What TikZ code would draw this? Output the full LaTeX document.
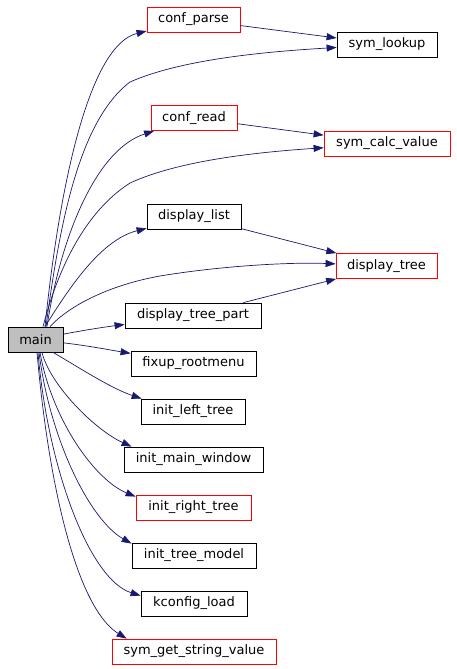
\documentclass[tikz,border=0pt]{standalone}
\usepackage{fontspec}
\setmainfont{DejaVu Sans}
\usetikzlibrary{arrows.meta}
\definecolor{edgec}{HTML}{191970}
\definecolor{redb}{HTML}{FF0000}
\definecolor{grayfill}{HTML}{BFBFBF}
\tikzset{
  fn/.style={draw=black, line width=0.8pt, inner sep=0pt, minimum height=25pt,
    font=\fontsize{13}{15}\selectfont},
  fnred/.style={fn, draw=redb},
  call/.style={draw=edgec, line width=0.7pt, -{Triangle[length=10pt,width=7pt]}}
}
\begin{document}
\begin{tikzpicture}[x=1pt,y=-1pt]
\useasboundingbox[fill=white] (0,0) rectangle (456,669);
% nodes
\node[fn, fill=grayfill, minimum width=55pt] (main) at (35.5,339.5) {main};
\node[fnred, minimum width=93pt] (confparse) at (193.5,19.5) {conf\_parse};
\node[fn, minimum width=100pt] (symlookup) at (387,44.5) {sym\_lookup};
\node[fnred, minimum width=86pt] (confread) at (194,118) {conf\_read};
\node[fnred, minimum width=126pt] (symcalc) at (387,143.5) {sym\_calc\_value};
\node[fn, minimum width=94pt] (displist) at (194,216.5) {display\_list};
\node[fnred, minimum width=101pt] (disptree) at (386.5,266) {display\_tree};
\node[fn, minimum width=136pt] (disppart) at (193,315.5) {display\_tree\_part};
\node[fn, minimum width=125pt] (fixup) at (193.5,363.5) {fixup\_rootmenu};
\node[fn, minimum width=104pt] (leftree) at (193,411.5) {init\_left\_tree};
\node[fn, minimum width=139pt] (mainwin) at (193.5,459.5) {init\_main\_window};
\node[fnred, minimum width=115pt] (rightree) at (193.5,507.5) {init\_right\_tree};
\node[fn, minimum width=124pt] (treemodel) at (194,555.5) {init\_tree\_model};
\node[fn, minimum width=106pt] (kload) at (194,603.5) {kconfig\_load};
\node[fnred, minimum width=164pt] (symget) at (194,651.5) {sym\_get\_string\_value};
% edges upward from main
\draw[call] ([xshift=9.5pt]main.north) .. controls (60,180) and (90,45) .. (confparse);
\draw[call] ([xshift=10.5pt]main.north) .. controls (60,220) and (80,120) .. (130,82)
  .. controls (180,60) and (260,52) .. (symlookup);
\draw[call] ([xshift=11.5pt]main.north) .. controls (60,240) and (95,150) .. (confread);
\draw[call] ([xshift=7.5pt]main.north) .. controls (55,280) and (80,215) .. (130,183)
  .. controls (180,160) and (260,152) .. (symcalc);
\draw[call] ([xshift=9.5pt]main.north) .. controls (68,290) and (100,240) .. (displist);
\draw[call] ([xshift=14.5pt]main.north) .. controls (70,305) and (110,285) .. (160,276)
  .. controls (220,266) and (290,262) .. (disptree);
\draw[call] (main) .. controls (85,330) and (105,327) .. (disppart);
\draw[call] (main) .. controls (90,346) and (110,350) .. (fixup);
% edges downward from main
\draw[call] ([xshift=17.5pt]main.south) .. controls (75,365) and (110,388) .. ([xshift=1pt]leftree.north west);
\draw[call] ([xshift=6.5pt]main.south) .. controls (50,385) and (95,430) .. ([xshift=8pt]mainwin.north west);
\draw[call] ([xshift=4.5pt]main.south) .. controls (52,420) and (95,480) .. ([yshift=-2pt]rightree.north west);
\draw[call] ([xshift=3.5pt]main.south) .. controls (50,440) and (90,520) .. ([yshift=-1pt]treemodel.north west);
\draw[call] ([xshift=2.5pt]main.south) .. controls (48,470) and (90,580) .. ([yshift=-5pt]kload.north west);
\draw[call] ([xshift=1.5pt]main.south) .. controls (50,500) and (80,610) .. ([xshift=15pt]symget.north west);
% inter-node edges
\draw[call] (confparse) -- (symlookup);
\draw[call] (confread) -- (symcalc);
\draw[call] (displist) -- (disptree);
\draw[call] (disppart) -- (disptree);
\end{tikzpicture}
\end{document}
